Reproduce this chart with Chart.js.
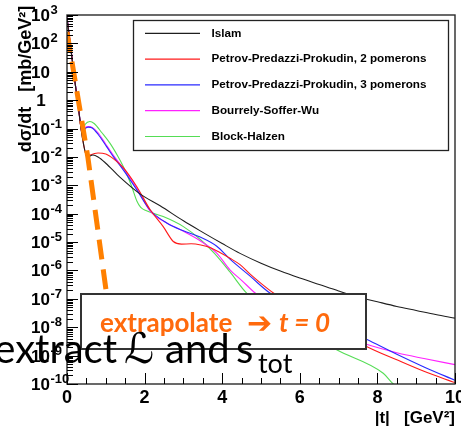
<!DOCTYPE html>
<html><head><meta charset="utf-8">
<script src="https://cdn.jsdelivr.net/npm/chart.js@4.4.1/dist/chart.umd.min.js"></script>
<style>html,body{margin:0;padding:0;background:#fff;overflow:hidden}canvas{display:block}</style>
</head><body>
<canvas id="c" width="461" height="434"></canvas>
<script>
// ---- data ----
const legendNames = ['Islam', 'Petrov-Predazzi-Prokudin, 2 pomerons', 'Petrov-Predazzi-Prokudin, 3 pomerons', 'Bourrely-Soffer-Wu', 'Block-Halzen'];

const islamT = [0, 0.1, 0.2, 0.3, 0.4, 0.52, 0.67, 0.8, 1.0, 1.37, 1.88, 2.4, 3.0, 3.5, 4.0, 4.46, 5.0, 5.5, 6.0, 6.5, 7.0, 7.5, 8.0, 8.5, 9.0, 9.5, 10];
const islamY = [7.9e2, 6.3e1, 5.0, 4.5e-1, 4.5e-2, 1.0e-2, 1.17e-2, 1.0e-2, 6.0e-3, 1.9e-3, 5.0e-4, 1.9e-4, 5.6e-5, 2.2e-5, 8.9e-6, 4.0e-6, 1.8e-6, 9.5e-7, 5.4e-7, 3.2e-7, 1.9e-7, 1.17e-7, 7.9e-8, 5.4e-8, 3.9e-8, 2.8e-8, 2.1e-8];

const ppp2T = [0, 0.1, 0.2, 0.3, 0.4, 0.52, 0.6, 0.8, 1.0, 1.2, 1.45, 1.8, 2.14, 2.48, 2.74, 2.95, 3.2, 3.45, 3.7, 3.94, 4.2, 4.46, 4.72, 5.0, 5.32, 6.0, 7.0, 7.72, 8.5, 9.2, 10];
const ppp2Y = [7.9e2, 6.3e1, 5.0, 4.5e-1, 4.5e-2, 1.0e-2, 1.17e-2, 1.38e-2, 1.26e-2, 8.5e-3, 4.2e-3, 8.9e-4, 1.4e-4, 3.5e-5, 1.05e-5, 8.5e-6, 8.7e-6, 7.9e-6, 6.3e-6, 4.3e-6, 2.7e-6, 1.6e-6, 7.4e-7, 3.5e-7, 1.6e-7, 4.0e-8, 7.9e-9, 2.1e-9, 7.1e-10, 2.8e-10, 1.12e-10];

const ppp3T = [0, 0.1, 0.2, 0.3, 0.39, 0.47, 0.55, 0.65, 0.8, 1.02, 1.2, 1.45, 1.8, 2.14, 2.57, 3.0, 3.43, 3.86, 4.2, 4.72, 5.23, 6.0, 7.0, 7.72, 8.5, 9.2, 10];
const ppp3Y = [7.9e2, 6.3e1, 5.0, 5.0e-1, 6.6e-2, 1.0e-1, 1.12e-1, 1.05e-1, 6.3e-2, 2.3e-2, 1.0e-2, 3.5e-3, 6.9e-4, 1.35e-4, 4.7e-5, 2.5e-5, 1.5e-5, 7.1e-6, 2.5e-6, 6.3e-7, 1.6e-7, 4.5e-8, 1.12e-8, 3.8e-9, 1.12e-9, 4.0e-10, 1.35e-10];

const bswT = [0, 0.1, 0.2, 0.3, 0.39, 0.47, 0.55, 0.65, 0.8, 1.0, 1.2, 1.45, 1.8, 2.14, 2.57, 3.0, 3.43, 3.86, 4.2, 4.5, 4.85, 5.5, 6.5, 7.72, 8.5, 9.2, 10];
const bswY = [8.9e2, 7.1e1, 5.2, 5.0e-1, 7.1e-2, 1.07e-1, 1.17e-1, 1.1e-1, 7.1e-2, 2.8e-2, 1.12e-2, 4.0e-3, 7.9e-4, 1.26e-4, 4.7e-5, 2.4e-5, 1.12e-5, 4.1e-6, 1.05e-6, 4.5e-7, 1.6e-7, 4.0e-8, 7.9e-9, 2.5e-9, 1.26e-9, 7.9e-10, 4.8e-10];

const bhT = [0, 0.1, 0.2, 0.3, 0.39, 0.47, 0.59, 0.7, 0.9, 1.11, 1.3, 1.45, 1.54, 1.67, 1.8, 1.9, 2.05, 2.48, 3.0, 3.43, 3.8, 4.2, 4.63, 5.5, 6.95, 8.15, 8.41, 8.8];
const bhY = [7.9e2, 6.3e1, 5.0, 5.0e-1, 7.6e-2, 1.41e-1, 1.78e-1, 1.51e-1, 7.1e-2, 3.0e-2, 1.12e-2, 4.6e-3, 2.5e-3, 8.9e-4, 2.8e-4, 1.66e-4, 1.26e-4, 7.9e-5, 3.5e-5, 1.26e-5, 4.0e-6, 8.9e-7, 1.6e-7, 2.5e-8, 1.6e-9, 2.4e-10, 1.0e-10, 4.5e-11];

const extrapT = [0, 0.54, 1.03, 1.2];
const extrapY = [2.5e2, 9.3e-3, 1.17e-7, 2.5e-9];

const xTickLabels = [0, 2, 4, 6, 8, 10];
const yTickExponents = [-10, -9, -8, -7, -6, -5, -4, -3, -2, -1, 0, 1, 2, 3];

const yTitle = 'dσ/dt   [mb/GeV²]';
const xTitle = '|t|   [GeV²]';

// ---- helpers ----
const pts = (ts, ys) => ts.map((t, i) => ({ x: t, y: ys[i] }));
const seriesColors = ['#1e1e1e', '#ff1a1a', '#2a2aff', '#ff22ff', '#55dd55'];
const SANS = '"Liberation Sans", Arial, sans-serif';

const rootAxes = {
  id: 'rootAxes',
  afterDatasetsDraw(chart) {
    const { ctx, chartArea: a, scales: { x, y } } = chart;
    ctx.save();
    // frame
    ctx.strokeStyle = '#2a2a2a';
    ctx.lineWidth = 1.4;
    ctx.strokeRect(a.left, a.top, a.right - a.left, a.bottom - a.top);
    // y ticks (log, inward)
    ctx.strokeStyle = '#000';
    ctx.lineWidth = 1;
    ctx.beginPath();
    for (const e of yTickExponents) {
      for (let m = 1; m <= 9; m++) {
        const v = m * Math.pow(10, e);
        if (v > 1e3 * 1.0001) break;
        const py = Math.round(y.getPixelForValue(v)) + 0.5;
        const len = m === 1 ? 11 : 6;
        ctx.moveTo(a.left, py);
        ctx.lineTo(a.left + len, py);
      }
    }
    // x ticks (inward)
    for (let i = 0; i <= 20; i++) {
      const t = i * 0.5;
      const px = Math.round(x.getPixelForValue(t)) + 0.5;
      const len = (i % 4 === 0) ? 11 : 6;
      ctx.moveTo(px, a.bottom);
      ctx.lineTo(px, a.bottom - len);
    }
    ctx.stroke();
    // y tick labels 10^n
    ctx.fillStyle = '#000';
    ctx.textBaseline = 'alphabetic';
    for (const e of yTickExponents) {
      const py = y.getPixelForValue(Math.pow(10, e));
      ctx.font = 'bold 17px ' + SANS;
      if (e === 0) {
        ctx.textAlign = 'center';
        ctx.fillText('1', 41, py + 6);
      } else if (e === 1) {
        ctx.textAlign = 'right';
        ctx.fillText('10', 50, py + 6);
      } else {
        ctx.textAlign = 'right';
        ctx.fillText('10', 50, py + 6);
        ctx.font = 'bold 13px ' + SANS;
        ctx.textAlign = 'left';
        ctx.fillText(String(e), 50.5, py - 1);
      }
    }
    // y title
    ctx.save();
    ctx.translate(31, 79);
    ctx.rotate(-Math.PI / 2);
    ctx.font = 'bold 18px ' + SANS;
    ctx.textAlign = 'center';
    ctx.fillText(yTitle, 0, 0);
    ctx.restore();

    // legend box
    const bx1 = 133.5, by1 = 20.5, bx2 = 448.5, by2 = 150.5;
    ctx.fillStyle = '#fff';
    ctx.fillRect(bx1, by1, bx2 - bx1, by2 - by1);
    ctx.strokeStyle = '#222';
    ctx.lineWidth = 1.3;
    ctx.strokeRect(bx1, by1, bx2 - bx1, by2 - by1);
    const ds = chart.data.datasets.filter(d => legendNames.includes(d.label));
    ds.forEach((d, i) => {
      const yy = 33.3 + i * 25.8;
      ctx.strokeStyle = d.borderColor;
      ctx.lineWidth = 1.2;
      ctx.beginPath();
      ctx.moveTo(145, yy);
      ctx.lineTo(200, yy);
      ctx.stroke();
      ctx.fillStyle = '#000';
      ctx.font = 'bold 11.7px ' + SANS;
      ctx.textAlign = 'left';
      ctx.textBaseline = 'middle';
      ctx.fillText(d.label, 211.5, yy);
    });
    ctx.restore();
  }
};

const overlay = {
  id: 'overlay',
  afterDraw(chart) {
    const ctx = chart.ctx;
    ctx.save();
    // white callout box
    ctx.fillStyle = '#fff';
    ctx.fillRect(81, 294, 285, 55);
    ctx.strokeStyle = '#333';
    ctx.lineWidth = 2;
    ctx.strokeRect(81, 294, 285, 55);
    // orange text
    ctx.fillStyle = '#ff6a0d';
    ctx.textBaseline = 'alphabetic';
    ctx.textAlign = 'left';
    ctx.font = 'bold 26px Lato, "Open Sans", sans-serif';
    ctx.fillText('extrapolate', 100, 331.5);
    ctx.font = 'bold 30px "DejaVu Sans", sans-serif';
    ctx.fillText('➔', 247, 333);
    ctx.font = 'italic bold 26px Lato, "Open Sans", sans-serif';
    ctx.fillText('t = 0', 279, 331.5);
    // black annotation
    ctx.fillStyle = '#000';
    ctx.font = '40px Lato, "Open Sans", sans-serif';
    ctx.textAlign = 'right';
    ctx.fillText('extract', 117, 363);
    ctx.textAlign = 'left';
    ctx.font = 'italic 42px "DejaVu Serif", "DejaVu Sans", serif';
    ctx.fillText('ℒ', 124, 363);
    ctx.font = '40px Lato, "Open Sans", sans-serif';
    ctx.fillText('and', 165, 363);
    ctx.fillText('s', 236, 363);
    ctx.font = '27px Lato, "Open Sans", sans-serif';
    ctx.fillText('tot', 258, 373);
    ctx.restore();
  }
};

const mk = (label, ts, ys, color) => ({
  label, data: pts(ts, ys), borderColor: color, borderWidth: 1.1,
  pointRadius: 0, fill: false, cubicInterpolationMode: 'monotone'
});

new Chart(document.getElementById('c').getContext('2d'), {
  type: 'line',
  data: {
    datasets: [
      { label: 'extrapolation', data: pts(extrapT, extrapY), borderColor: '#ff8000', borderWidth: 5,
        borderDash: [20, 10], pointRadius: 0, fill: false, tension: 0 },
      mk(legendNames[0], islamT, islamY, seriesColors[0]),
      mk(legendNames[1], ppp2T, ppp2Y, seriesColors[1]),
      mk(legendNames[2], ppp3T, ppp3Y, seriesColors[2]),
      mk(legendNames[3], bswT, bswY, seriesColors[3]),
      mk(legendNames[4], bhT, bhY, seriesColors[4])
    ]
  },
  options: {
    responsive: false, animation: false, devicePixelRatio: 1,
    layout: { padding: { left: 0, right: 6, top: 15, bottom: 0 } },
    plugins: { legend: { display: false }, tooltip: { enabled: false } },
    scales: {
      x: {
        type: 'linear', min: 0, max: 10,
        grid: { display: false, drawTicks: false }, border: { display: false },
        afterBuildTicks: s => { s.ticks = xTickLabels.map(v => ({ value: v })); },
        ticks: { font: { family: SANS, weight: 'bold', size: 18 }, color: '#000', padding: 3,
                 maxRotation: 0, autoSkip: false, callback: v => String(v) },
        title: { display: true, text: xTitle, align: 'end', color: '#000',
                 font: { family: SANS, weight: 'bold', size: 17 }, padding: { top: 0, bottom: 5 } },
        afterFit: s => { s.height = 50; s.paddingLeft = 0; s.paddingRight = 0; }
      },
      y: {
        type: 'logarithmic', min: 1e-10, max: 1e3,
        grid: { display: false, drawTicks: false }, border: { display: false },
        ticks: { display: false },
        afterFit: s => { s.width = 67; }
      }
    }
  },
  plugins: [rootAxes, overlay]
});
</script>
</body></html>
